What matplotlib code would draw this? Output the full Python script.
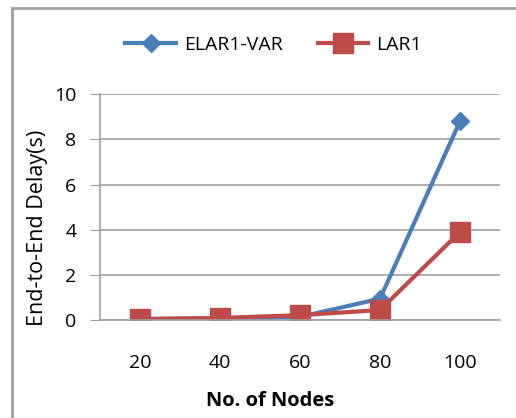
import numpy as np
import matplotlib.pyplot as plt
from matplotlib.lines import Line2D

nodes = ['20', '40', '60', '80', '100']
elar1_var = [0.05, 0.08, 0.15, 0.95, 8.8]
lar1 = [0.05, 0.1, 0.22, 0.45, 3.9]

plt.rcParams['font.family'] = ['Open Sans', 'DejaVu Sans']

fig = plt.figure(figsize=(5.16, 4.18), dpi=100)
ax = fig.add_axes([0.194, 0.234, 0.775, 0.541])

x = np.arange(len(nodes))
ax.plot(x, elar1_var, color='#4a7ebb', lw=3, marker='D', markersize=9, label='ELAR1-VAR')
ax.plot(x, lar1, color='#be4b48', lw=3, marker='s', markersize=14, label='LAR1')

ax.set_xlim(-0.5, 4.5)
ax.set_ylim(0, 10)
ax.set_yticks([0, 2, 4, 6, 8, 10])
ax.set_xticks(x)
ax.set_xticklabels(nodes)
ax.yaxis.grid(True, color='#a0a0a0', lw=1.2)
ax.set_axisbelow(True)
for s in ['top', 'right']:
    ax.spines[s].set_visible(False)
for s in ['left', 'bottom']:
    ax.spines[s].set_color('#a0a0a0')
    ax.spines[s].set_linewidth(1.2)
ax.tick_params(axis='y', length=7, color='#a0a0a0', labelsize=14, pad=10)
ax.tick_params(axis='x', length=0, labelsize=14, pad=24)
ax.set_xlabel('No. of Nodes', fontsize=14.5, fontweight='bold')
ax.set_ylabel('End-to-End Delay(s)', fontsize=15.5)
# Excel places the axis titles a bit off-centre
ax.xaxis.set_label_coords(0.425, -0.315)
ax.yaxis.set_label_coords(-0.13, 0.41)

fig.legend(loc='center', bbox_to_anchor=(0.53, 0.892), ncol=2, frameon=False,
           fontsize=14, handlelength=2.6, handletextpad=0.4, columnspacing=1.8)

# outer chart frame (only left and top visible)
fig.add_artist(Line2D([0.024, 0.024], [0, 0.981], color='#a0a0a0', lw=2))
fig.add_artist(Line2D([0.024, 1.0], [0.981, 0.981], color='#a0a0a0', lw=2))

fig.savefig('out.png', dpi=100)
